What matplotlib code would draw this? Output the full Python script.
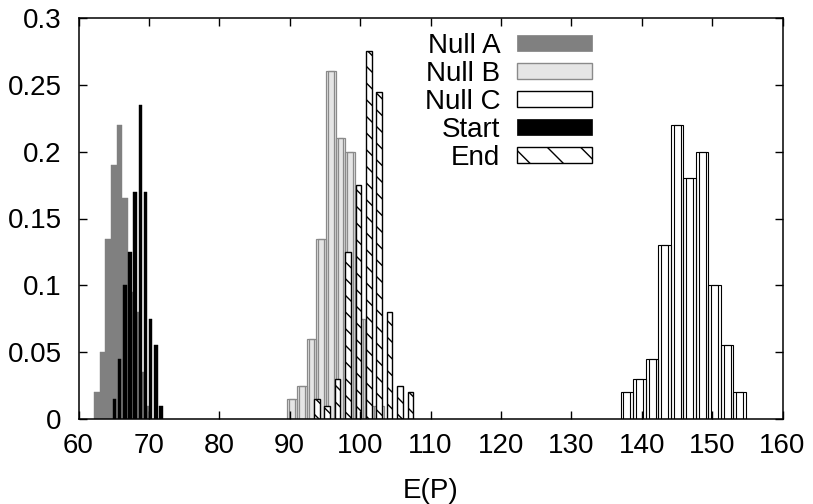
import numpy as np
import matplotlib
matplotlib.use("Agg")
import matplotlib.pyplot as plt
from matplotlib.patches import Patch

plt.rcParams['font.family'] = ['Liberation Sans', 'DejaVu Sans']
plt.rcParams['hatch.linewidth'] = 1.0

# Histogram bin centres (E(P)) and relative frequencies for each run
null_a_x = [62.60, 63.41, 64.21, 65.02, 65.82, 66.63, 67.43, 68.24, 69.04, 69.85]
null_a_h = [0.02, 0.05, 0.135, 0.19, 0.22, 0.165, 0.095, 0.08, 0.035, 0.01]

null_b_x = [90.35, 91.72, 93.09, 94.47, 95.84, 97.21, 98.59, 99.96, 101.33, 102.71]
null_b_h = [0.015, 0.025, 0.06, 0.135, 0.26, 0.21, 0.20, 0.075, 0.01, 0.01]

null_c_x = [137.91, 139.69, 141.47, 143.25, 145.02, 146.80, 148.58, 150.36, 152.14, 153.91]
null_c_h = [0.02, 0.03, 0.045, 0.13, 0.22, 0.18, 0.20, 0.10, 0.055, 0.02]

start_x = [65.10, 65.84, 66.57, 67.31, 68.04, 68.78, 69.51, 70.25, 70.98, 71.72]
start_h = [0.015, 0.045, 0.10, 0.125, 0.17, 0.235, 0.17, 0.075, 0.055, 0.01]

end_x = [93.86, 95.33, 96.81, 98.28, 99.76, 101.23, 102.70, 104.18, 105.65, 107.13]
end_h = [0.015, 0.01, 0.03, 0.125, 0.175, 0.275, 0.245, 0.08, 0.025, 0.02]

x_ticks = [60, 70, 80, 90, 100, 110, 120, 130, 140, 150, 160]
y_ticks = [0, 0.05, 0.1, 0.15, 0.2, 0.25, 0.3]
y_tick_labels = ["0", "0.05", "0.1", "0.15", "0.2", "0.25", "0.3"]

series_labels = ["Null A", "Null B", "Null C", "Start", "End"]

GRAY_A = "#808080"
GRAY_B_FILL = "#e5e5e5"
GRAY_B_EDGE = "#8a8a8a"
FS = 20

fig = plt.figure(figsize=(8.13, 5.04), dpi=100)
ax = fig.add_axes([78.5 / 813, 85 / 504, (782.5 - 78.5) / 813, (419 - 18) / 504])


def double_outline(x, h, step, color, lw):
    """Two overlapping outline boxes per bin."""
    x = np.asarray(x)
    w = 0.78 * step
    off = 0.11 * step
    for s in (-1, 1):
        ax.bar(x + s * off, h, width=w, fill=False, edgecolor=color,
               linewidth=lw, align='center')


# Null A: solid mid-gray
step_a = null_a_x[1] - null_a_x[0]
ax.bar(null_a_x, null_a_h, width=step_a, color=GRAY_A, edgecolor=GRAY_A,
       linewidth=0.3)

# Null B: light-gray fill with gray double outline
step_b = null_b_x[1] - null_b_x[0]
ax.bar(null_b_x, null_b_h, width=step_b, color=GRAY_B_FILL, linewidth=0)
double_outline(null_b_x, null_b_h, step_b, GRAY_B_EDGE, 0.9)

# Null C: white with black double outline
step_c = null_c_x[1] - null_c_x[0]
ax.bar(null_c_x, null_c_h, width=step_c, color="white", linewidth=0)
double_outline(null_c_x, null_c_h, step_c, "black", 0.8)

# Start: narrow solid black bars
ax.bar(start_x, start_h, width=0.5, color="black", edgecolor="black",
       linewidth=0.3)

# End: hatched outlined bars
ax.bar(end_x, end_h, width=0.78, facecolor="white", edgecolor="black",
       hatch="\\\\", linewidth=1.0)

ax.set_xlim(60, 160)
ax.set_ylim(0, 0.3)
ax.set_xticks(x_ticks)
ax.set_xticklabels([str(t) for t in x_ticks])
ax.set_yticks(y_ticks)
ax.set_yticklabels(y_tick_labels)
ax.tick_params(axis='both', direction='in', length=6, width=1.0,
               top=True, right=True, labelsize=FS)
ax.tick_params(axis='x', pad=10)
ax.tick_params(axis='y', pad=12)
for sp in ax.spines.values():
    sp.set_linewidth(1.1)
ax.set_xlabel("E(P)", fontsize=FS, labelpad=14)

handles = [
    Patch(facecolor=GRAY_A, edgecolor=GRAY_A, linewidth=0.5),
    Patch(facecolor=GRAY_B_FILL, edgecolor=GRAY_B_EDGE, linewidth=1.0),
    Patch(facecolor="white", edgecolor="black", linewidth=1.0),
    Patch(facecolor="black", edgecolor="black", linewidth=0.5),
    Patch(facecolor="white", edgecolor="black", hatch="\\", linewidth=1.0),
]
leg = ax.legend(handles, series_labels, loc='upper right',
                bbox_to_anchor=(592 / 813, 1 - 33 / 504),
                bbox_transform=fig.transFigure, frameon=False,
                markerfirst=False, fontsize=FS, handlelength=2.7,
                handleheight=0.5, handletextpad=0.6, labelspacing=0.07,
                borderpad=0, borderaxespad=0)

fig.savefig("out.png", dpi=100)
